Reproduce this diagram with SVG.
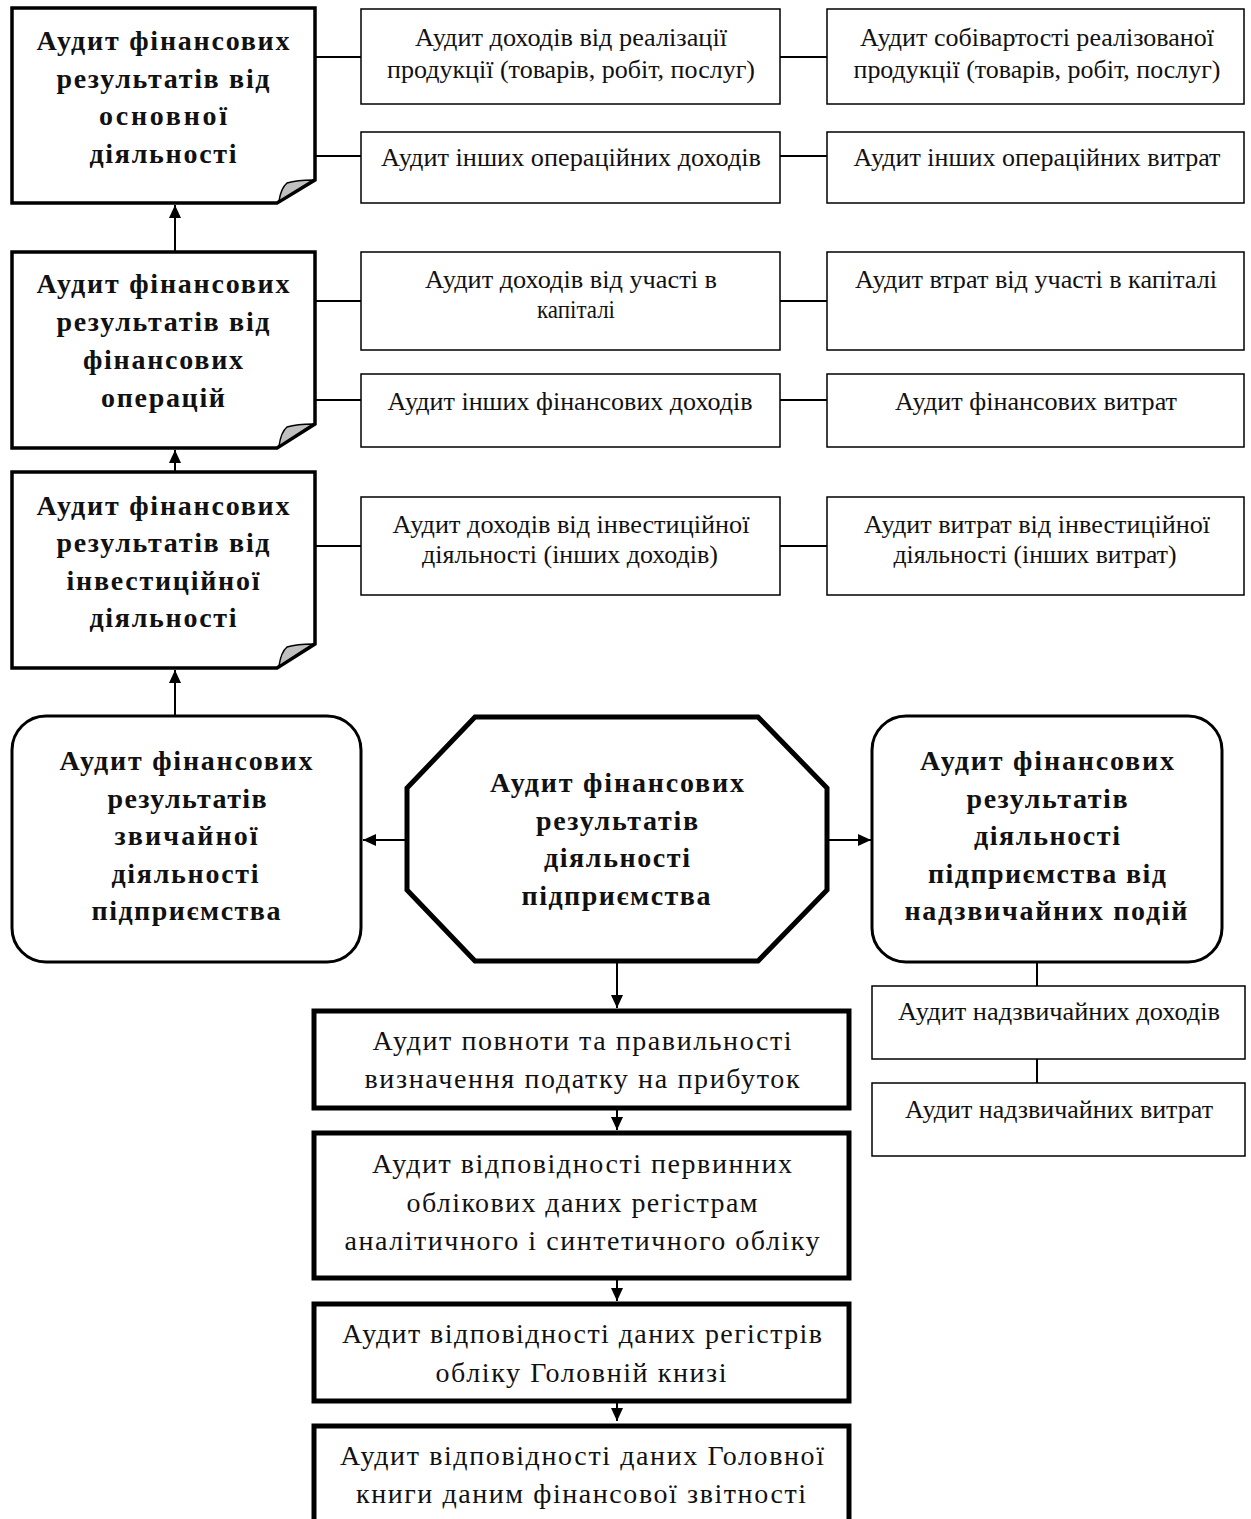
<svg xmlns="http://www.w3.org/2000/svg" width="1251" height="1519" viewBox="0 0 1251 1519">
<defs>
<marker id="arr" markerWidth="14" markerHeight="14" refX="13" refY="7" orient="auto" markerUnits="userSpaceOnUse">
<path d="M0,1 L13,7 L0,13 Z" fill="#000"/>
</marker>
<style>
.doc{fill:#fff;stroke:#000;stroke-width:3.5;stroke-linejoin:miter}
.fold{fill:#c0c0c0;stroke:#000;stroke-width:1.5}
.thin{fill:#fff;stroke:#000;stroke-width:1.5}
.rnd{fill:#fff;stroke:#000;stroke-width:3}
.oct{fill:#fff;stroke:#000;stroke-width:5}
.thick{fill:#fff;stroke:#000;stroke-width:5}
.b{font-family:"Liberation Serif","Times New Roman",serif;font-weight:bold;font-size:28px;fill:#111;text-anchor:middle}
.t{font-family:"Liberation Serif","Times New Roman",serif;font-size:25px;fill:#111;text-anchor:middle}
.m{font-family:"Liberation Serif","Times New Roman",serif;font-size:28px;fill:#111;text-anchor:middle}
.ln{stroke:#000;stroke-width:2;fill:none}
</style>
</defs>

<g id="connectors">
<line class="ln" x1="315" y1="57" x2="361" y2="57"/>
<line class="ln" x1="780" y1="57" x2="827" y2="57"/>
<line class="ln" x1="315" y1="156" x2="361" y2="156"/>
<line class="ln" x1="780" y1="156" x2="827" y2="156"/>
<line class="ln" x1="315" y1="301" x2="361" y2="301"/>
<line class="ln" x1="780" y1="301" x2="827" y2="301"/>
<line class="ln" x1="315" y1="400" x2="361" y2="400"/>
<line class="ln" x1="780" y1="400" x2="827" y2="400"/>
<line class="ln" x1="315" y1="546" x2="361" y2="546"/>
<line class="ln" x1="780" y1="546" x2="827" y2="546"/>
<line class="ln" x1="175" y1="252" x2="175" y2="205" marker-end="url(#arr)"/>
<line class="ln" x1="175" y1="472" x2="175" y2="450" marker-end="url(#arr)"/>
<line class="ln" x1="175" y1="716" x2="175" y2="670" marker-end="url(#arr)"/>
<line class="ln" x1="406" y1="840" x2="363" y2="840" marker-end="url(#arr)"/>
<line class="ln" x1="828" y1="840" x2="871" y2="840" marker-end="url(#arr)"/>
<line class="ln" x1="1037" y1="962" x2="1037" y2="986"/>
<line class="ln" x1="1037" y1="1059" x2="1037" y2="1083"/>
<line class="ln" x1="617" y1="962" x2="617" y2="1008" marker-end="url(#arr)"/>
<line class="ln" x1="617" y1="1110" x2="617" y2="1130" marker-end="url(#arr)"/>
<line class="ln" x1="617" y1="1278" x2="617" y2="1301" marker-end="url(#arr)"/>
<line class="ln" x1="617" y1="1403" x2="617" y2="1421" marker-end="url(#arr)"/>
</g>

<g id="doc1">
<path class="doc" d="M12,8 H315 V180 L277,203 H12 Z"/>
<path class="fold" d="M279,201 Q281,188 287,183 Q297,180 313,180 Z"/>
<text class="b" x="163" y="50" textLength="253">Аудит фінансових</text>
<text class="b" x="163" y="88" textLength="213">результатів від</text>
<text class="b" x="163" y="125" textLength="128">основної</text>
<text class="b" x="163" y="163" textLength="147">діяльності</text>
</g>

<g id="doc2">
<path class="doc" d="M12,252 H315 V424 L277,448 H12 Z"/>
<path class="fold" d="M279,446 Q281,432 287,427 Q297,424 313,424 Z"/>
<text class="b" x="163" y="293" textLength="253">Аудит фінансових</text>
<text class="b" x="163" y="331" textLength="213">результатів від</text>
<text class="b" x="163" y="369" textLength="160">фінансових</text>
<text class="b" x="163" y="407" textLength="124">операцій</text>
</g>

<g id="doc3">
<path class="doc" d="M12,472 H315 V644 L277,668 H12 Z"/>
<path class="fold" d="M279,666 Q281,652 287,647 Q297,644 313,644 Z"/>
<text class="b" x="163" y="515" textLength="253">Аудит фінансових</text>
<text class="b" x="163" y="552" textLength="213">результатів від</text>
<text class="b" x="163" y="590" textLength="193">інвестиційної</text>
<text class="b" x="163" y="627" textLength="147">діяльності</text>
</g>

<g id="a1">
<rect class="thin" x="361" y="9" width="419" height="95"/>
<text class="t" x="571" y="46" textLength="312" lengthAdjust="spacingAndGlyphs">Аудит доходів від реалізації</text>
<text class="t" x="571" y="78" textLength="368" lengthAdjust="spacingAndGlyphs">продукції (товарів, робіт, послуг)</text>
</g>
<g id="b1">
<rect class="thin" x="827" y="9" width="417" height="95"/>
<text class="t" x="1037" y="46" textLength="354" lengthAdjust="spacingAndGlyphs">Аудит собівартості реалізованої</text>
<text class="t" x="1037" y="78" textLength="367" lengthAdjust="spacingAndGlyphs">продукції (товарів, робіт, послуг)</text>
</g>
<g id="a2">
<rect class="thin" x="361" y="132" width="419" height="71"/>
<text class="t" x="571" y="166" textLength="380" lengthAdjust="spacingAndGlyphs">Аудит інших операційних доходів</text>
</g>
<g id="b2">
<rect class="thin" x="827" y="132" width="417" height="71"/>
<text class="t" x="1037" y="166" textLength="367" lengthAdjust="spacingAndGlyphs">Аудит інших операційних витрат</text>
</g>
<g id="a3">
<rect class="thin" x="361" y="252" width="419" height="98"/>
<text class="t" x="571" y="288" textLength="292" lengthAdjust="spacingAndGlyphs">Аудит доходів від участі в</text>
<text class="t" x="576" y="318" textLength="78" lengthAdjust="spacingAndGlyphs">капіталі</text>
</g>
<g id="b3">
<rect class="thin" x="827" y="252" width="417" height="98"/>
<text class="t" x="1036" y="288" textLength="362" lengthAdjust="spacingAndGlyphs">Аудит втрат від участі в капіталі</text>
</g>
<g id="a4">
<rect class="thin" x="361" y="374" width="419" height="73"/>
<text class="t" x="570" y="410" textLength="365" lengthAdjust="spacingAndGlyphs">Аудит інших фінансових доходів</text>
</g>
<g id="b4">
<rect class="thin" x="827" y="374" width="417" height="73"/>
<text class="t" x="1036" y="410" textLength="282" lengthAdjust="spacingAndGlyphs">Аудит фінансових витрат</text>
</g>
<g id="a5">
<rect class="thin" x="361" y="497" width="419" height="98"/>
<text class="t" x="571" y="533" textLength="357" lengthAdjust="spacingAndGlyphs">Аудит доходів від інвестиційної</text>
<text class="t" x="570" y="563" textLength="296" lengthAdjust="spacingAndGlyphs">діяльності (інших доходів)</text>
</g>
<g id="b5">
<rect class="thin" x="827" y="497" width="417" height="98"/>
<text class="t" x="1037" y="533" textLength="346" lengthAdjust="spacingAndGlyphs">Аудит витрат від інвестиційної</text>
<text class="t" x="1035" y="563" textLength="283" lengthAdjust="spacingAndGlyphs">діяльності (інших витрат)</text>
</g>

<g id="ordinary">
<rect class="rnd" x="12" y="716" width="349" height="246" rx="34" ry="34"/>
<text class="b" x="186" y="770" textLength="253">Аудит фінансових</text>
<text class="b" x="187" y="808" textLength="159">результатів</text>
<text class="b" x="186" y="845" textLength="143">звичайної</text>
<text class="b" x="185" y="883" textLength="147">діяльності</text>
<text class="b" x="186" y="920" textLength="189">підприємства</text>
</g>

<g id="center">
<path class="oct" d="M475,717 H758 L827,788 V890 L758,961 H475 L407,890 V788 Z"/>
<text class="b" x="617" y="792" textLength="254">Аудит фінансових</text>
<text class="b" x="617" y="830" textLength="162">результатів</text>
<text class="b" x="617" y="867" textLength="146">діяльності</text>
<text class="b" x="616" y="905" textLength="189">підприємства</text>
</g>

<g id="extra">
<rect class="rnd" x="872" y="716" width="350" height="246" rx="34" ry="34"/>
<text class="b" x="1047" y="770" textLength="254">Аудит фінансових</text>
<text class="b" x="1047" y="808" textLength="161">результатів</text>
<text class="b" x="1047" y="845" textLength="146">діяльності</text>
<text class="b" x="1047" y="883" textLength="238">підприємства від</text>
<text class="b" x="1046" y="920" textLength="283">надзвичайних подій</text>
</g>

<g id="n1">
<rect class="thin" x="872" y="986" width="373" height="73"/>
<text class="t" x="1059" y="1020" textLength="322" lengthAdjust="spacingAndGlyphs">Аудит надзвичайних доходів</text>
</g>
<g id="n2">
<rect class="thin" x="872" y="1083" width="373" height="73"/>
<text class="t" x="1059" y="1118" textLength="308" lengthAdjust="spacingAndGlyphs">Аудит надзвичайних витрат</text>
</g>

<g id="tax">
<rect class="thick" x="314" y="1011" width="535" height="97"/>
<text class="m" x="582" y="1050" textLength="419">Аудит повноти та правильності</text>
<text class="m" x="582" y="1088" textLength="435">визначення податку на прибуток</text>
</g>
<g id="primary">
<rect class="thick" x="314" y="1133" width="535" height="145"/>
<text class="m" x="582" y="1173" textLength="420">Аудит відповідності первинних</text>
<text class="m" x="582" y="1212" textLength="351">облікових даних регістрам</text>
<text class="m" x="582" y="1250" textLength="475">аналітичного і синтетичного обліку</text>
</g>
<g id="ledger">
<rect class="thick" x="314" y="1304" width="535" height="97"/>
<text class="m" x="582" y="1343" textLength="480">Аудит відповідності даних регістрів</text>
<text class="m" x="581" y="1382" textLength="291">обліку Головній книзі</text>
</g>
<g id="report">
<rect class="thick" x="314" y="1426" width="535" height="110"/>
<text class="m" x="582" y="1465" textLength="484">Аудит відповідності даних Головної</text>
<text class="m" x="581" y="1503" textLength="450">книги даним фінансової звітності</text>
</g>
</svg>
